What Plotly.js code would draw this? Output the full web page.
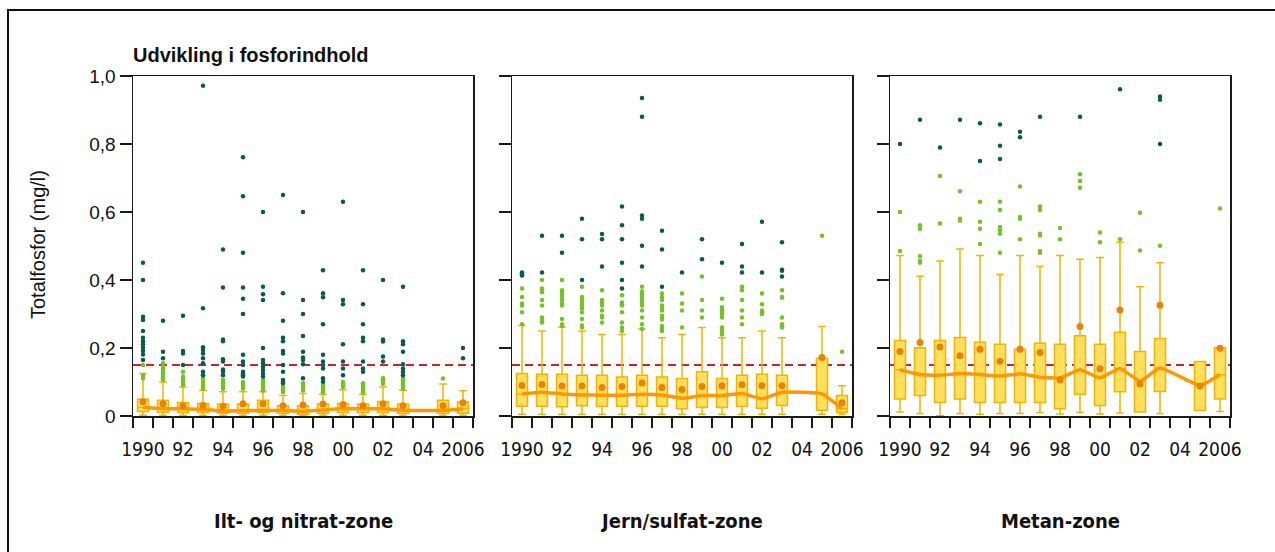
<!DOCTYPE html>
<html><head><meta charset="utf-8">
<script src="https://cdn.plot.ly/plotly-3.0.1.min.js"></script>
<style>
html,body{margin:0;padding:0;background:#fff;overflow:hidden}
#chart{width:1275px;height:552px;position:relative}
#frame{position:absolute;left:7px;top:9px;width:1400px;height:700px;border-left:2px solid #111;border-top:2px solid #111;pointer-events:none}
</style></head><body>
<div id="chart"></div><div id="frame"></div>
<script>
// ---------- DATA ----------
const tickYears = [1990,1992,1994,1996,1998,2000,2002,2004,2006];
const tickLabels = ['1990','92','94','96','98','00','02','04','2006'];
const yTickVals = [0,0.2,0.4,0.6,0.8,1.0];
const yTickLabels = ['0','0,2','0,4','0,6','0,8','1,0'];
const threshold = 0.15;
const zoneNames = ['Ilt- og nitrat-zone','Jern/sulfat-zone','Metan-zone'];

const years = [1990,1991,1992,1993,1994,1995,1996,1997,1998,1999,2000,2001,2002,2003,2005,2006];

// Ilt- og nitrat-zone
const iltQ1     = [0.013,0.011,0.010,0.010,0.008,0.008,0.010,0.008,0.005,0.008,0.010,0.010,0.010,0.008,0.008,0.008];
const iltMedian = [0.025,0.022,0.021,0.020,0.015,0.016,0.016,0.016,0.014,0.018,0.021,0.021,0.021,0.017,0.016,0.021];
const iltQ3     = [0.049,0.046,0.040,0.037,0.035,0.035,0.046,0.030,0.030,0.035,0.037,0.035,0.043,0.035,0.046,0.041];
const iltLower  = [0.002,0.002,0.002,0.002,0.002,0.002,0.002,0.002,0.002,0.002,0.002,0.002,0.002,0.002,0.002,0.002];
const iltUpper  = [0.125,0.100,0.085,0.075,0.071,0.071,0.071,0.060,0.066,0.064,0.077,0.064,0.085,0.076,0.094,0.074];
const iltMean   = [0.042,0.036,0.030,0.031,0.029,0.036,0.036,0.030,0.032,0.035,0.034,0.030,0.036,0.030,0.030,0.039];
const iltMild = [
  [0.150,0.120,0.111],
  [0.155,0.147,0.140,0.132,0.125,0.116,0.111,0.106],
  [0.130,0.116,0.108,0.101,0.096,0.091],
  [0.111,0.101,0.091,0.086,0.081],
  [0.106,0.100,0.095,0.090,0.085,0.080],
  [0.100,0.095,0.090,0.085,0.080],
  [0.106,0.100,0.095,0.090,0.085,0.080,0.075],
  [0.086,0.080,0.075,0.070],
  [0.096,0.090,0.085,0.080,0.075],
  [0.091,0.085,0.080,0.075,0.070],
  [0.100,0.095,0.090,0.085],
  [0.096,0.090,0.085,0.080,0.075,0.070],
  [0.111,0.105,0.100,0.095],
  [0.110,0.105,0.100,0.095,0.090,0.085,0.080],
  [0.110],
  []
];
const iltExtreme = [
  [0.451,0.400,0.292,0.282,0.250,0.230,0.220,0.211,0.201,0.191,0.181,0.165],
  [0.280,0.189,0.170],
  [0.295,0.191,0.184,0.150],
  [0.971,0.317,0.202,0.194,0.184,0.170,0.155,0.130,0.120],
  [0.490,0.378,0.225,0.220,0.167,0.160,0.137,0.130,0.120],
  [0.761,0.646,0.480,0.378,0.345,0.300,0.180,0.160,0.150,0.130,0.125,0.120,0.116],
  [0.600,0.380,0.358,0.341,0.200,0.165,0.155,0.145,0.135,0.125,0.116],
  [0.650,0.361,0.280,0.230,0.220,0.191,0.184,0.150,0.130,0.106,0.101,0.096],
  [0.600,0.341,0.300,0.235,0.189,0.172,0.165,0.152,0.111],
  [0.429,0.361,0.349,0.270,0.180,0.160,0.150,0.140,0.111,0.101],
  [0.630,0.341,0.329,0.211,0.160,0.140,0.120],
  [0.429,0.329,0.270,0.230,0.220,0.160,0.140,0.130],
  [0.400,0.225,0.219,0.175,0.160],
  [0.380,0.220,0.211,0.189,0.152,0.140,0.130,0.120],
  [],
  [0.200,0.170]
];

// Jern/sulfat-zone
const jernQ1     = [0.029,0.029,0.027,0.030,0.028,0.029,0.029,0.029,0.021,0.025,0.025,0.028,0.023,0.031,0.017,0.011];
const jernMedian = [0.065,0.070,0.065,0.062,0.061,0.061,0.064,0.062,0.052,0.060,0.060,0.066,0.051,0.070,0.065,0.021];
const jernQ3     = [0.125,0.123,0.123,0.120,0.120,0.115,0.120,0.115,0.110,0.130,0.110,0.120,0.123,0.120,0.170,0.060];
const jernLower  = [0.005,0.005,0.005,0.005,0.005,0.005,0.005,0.005,0.005,0.005,0.005,0.005,0.005,0.005,0.005,0.005];
const jernUpper  = [0.266,0.250,0.261,0.250,0.240,0.240,0.256,0.230,0.240,0.260,0.230,0.230,0.250,0.230,0.263,0.089];
const jernMean   = [0.090,0.093,0.088,0.088,0.084,0.087,0.097,0.084,0.078,0.087,0.089,0.092,0.089,0.089,0.172,0.039];
const jernMild = [
  [0.375,0.350,0.331,0.325,0.305,0.270],
  [0.400,0.375,0.370,0.364,0.341,0.325,0.290,0.284,0.279,0.275],
  [0.400,0.370,0.364,0.357,0.350,0.341,0.331,0.325,0.285,0.270,0.265],
  [0.380,0.350,0.345,0.339,0.331,0.325,0.317,0.305,0.285,0.266,0.260],
  [0.370,0.341,0.336,0.331,0.325,0.310,0.295,0.290,0.275],
  [0.355,0.334,0.329,0.325,0.305,0.275,0.260,0.250],
  [0.380,0.366,0.358,0.350,0.341,0.334,0.325,0.310,0.290,0.270,0.256],
  [0.360,0.350,0.341,0.325,0.317,0.310,0.295,0.290,0.284,0.265,0.260,0.255,0.250],
  [0.360,0.331,0.310,0.260],
  [0.410,0.341,0.310,0.290],
  [0.345,0.320,0.315,0.310,0.302,0.295,0.290,0.260,0.252,0.245,0.240],
  [0.380,0.370,0.341,0.310,0.290,0.270],
  [0.360,0.329,0.310,0.305,0.300],
  [0.370,0.350,0.348,0.290,0.270,0.265,0.260],
  [0.530],
  [0.189]
];
const jernExtreme = [
  [0.422,0.417,0.413],
  [0.530,0.422],
  [0.530,0.480],
  [0.580,0.520,0.400],
  [0.535,0.520,0.440],
  [0.616,0.561,0.520,0.451,0.400,0.375],
  [0.935,0.880,0.590,0.580,0.501,0.440],
  [0.545,0.490,0.380],
  [0.422],
  [0.520,0.461],
  [0.451],
  [0.506,0.440,0.422],
  [0.571,0.422],
  [0.511,0.430,0.427,0.410],
  [],
  []
];

// Metan-zone
const metanQ1     = [0.050,0.060,0.040,0.050,0.040,0.040,0.040,0.040,0.021,0.064,0.031,0.071,0.012,0.072,0.016,0.050];
const metanMedian = [0.136,0.122,0.120,0.125,0.122,0.118,0.124,0.114,0.112,0.136,0.112,0.140,0.103,0.141,0.090,0.121];
const metanQ3     = [0.222,0.201,0.222,0.231,0.217,0.211,0.196,0.214,0.211,0.236,0.211,0.246,0.190,0.228,0.160,0.201];
const metanLower  = [0.012,0.007,0.001,0.007,0.005,0.007,0.007,0.010,0.006,0.011,0.006,0.009,0.012,0.007,0.016,0.013];
const metanUpper  = [0.472,0.411,0.456,0.491,0.472,0.416,0.472,0.440,0.472,0.461,0.466,0.511,0.380,0.451,0.160,0.201];
const metanMean   = [0.190,0.216,0.203,0.177,0.196,0.161,0.196,0.187,0.106,0.263,0.139,0.312,0.094,0.326,0.088,0.199];
const metanMild = [
  [0.600,0.485],
  [0.561,0.551,0.470,0.456,0.451],
  [0.706,0.566],
  [0.661,0.580,0.575],
  [0.630,0.571,0.551,0.506],
  [0.630,0.606,0.556,0.546,0.536,0.480],
  [0.675,0.585,0.580,0.520],
  [0.616,0.606,0.536,0.531,0.485,0.480],
  [0.553,0.520],
  [0.711,0.691,0.671],
  [0.540,0.511],
  [0.520],
  [0.598,0.487],
  [0.501],
  [],
  [0.610]
];
const metanExtreme = [
  [0.800],
  [0.871],
  [0.790],
  [0.871],
  [0.861,0.750],
  [0.857,0.795,0.756],
  [0.836,0.820],
  [0.880],
  [],
  [0.880],
  [],
  [0.961],
  [],
  [0.940,0.930,0.800],
  [],
  []
];

// ---------- BUILD ----------
const C = {
  boxFill:'#ffdf5e', boxLine:'#f2b400', mild:'#76c02a', extreme:'#0a5a4b',
  mean:'#e5840b', median:'#ff9800', red:'#d3222a', axis:'#1a1a1a'
};
const panels = [
  {q1:iltQ1, med:iltMedian, q3:iltQ3, lf:iltLower, uf:iltUpper, mean:iltMean, mild:iltMild, ext:iltExtreme},
  {q1:jernQ1, med:jernMedian, q3:jernQ3, lf:jernLower, uf:jernUpper, mean:jernMean, mild:jernMild, ext:jernExtreme},
  {q1:metanQ1, med:metanMedian, q3:metanQ3, lf:metanLower, uf:metanUpper, mean:metanMean, mild:metanMild, ext:metanExtreme}
];
function flat(groups){
  const xs=[], ys=[];
  groups.forEach((g,i)=>g.forEach(v=>{xs.push(years[i]); ys.push(v);}));
  return {x:xs, y:ys};
}
const W=1275, H=552;
const pxX = [[133,473],[512,852],[890,1230]];
const yDom = [(H-416)/H, (H-76)/H];
const traces=[];
const sans = 'Liberation Sans, Arial, sans-serif';
const narrow = 'Liberation Sans Narrow, Arial Narrow, DejaVu Sans Condensed, sans-serif';
const layout = {
  width:W, height:H, margin:{l:0,r:0,t:0,b:0},
  paper_bgcolor:'rgba(0,0,0,0)', plot_bgcolor:'#fff', showlegend:false,
  font:{family:sans, color:'#111'},
  title:{text:'<b>Udvikling i fosforindhold</b>', x:133/W, xanchor:'left', xref:'paper',
         y:1-55/H, yanchor:'middle', yref:'paper', font:{family:sans, size:20, color:'#111'}},
  shapes:[], annotations:[]
};
panels.forEach((p,k)=>{
  const xa = k===0?'x':'x'+(k+1), ya = k===0?'y':'y'+(k+1);
  const xk = k===0?'xaxis':'xaxis'+(k+1), yk = k===0?'yaxis':'yaxis'+(k+1);
  traces.push({type:'box', x:years, q1:p.q1, median:p.med, q3:p.q3, lowerfence:p.lf, upperfence:p.uf,
    width:0.55, whiskerwidth:0.7, fillcolor:C.boxFill, line:{color:C.boxLine, width:1.5},
    boxpoints:false, xaxis:xa, yaxis:ya, hoverinfo:'skip'});
  const m = flat(p.mild), e = flat(p.ext);
  traces.push({type:'scatter', mode:'markers', x:m.x, y:m.y, xaxis:xa, yaxis:ya,
    marker:{color:C.mild, size:4.5}, hoverinfo:'skip', cliponaxis:false});
  traces.push({type:'scatter', mode:'markers', x:e.x, y:e.y, xaxis:xa, yaxis:ya,
    marker:{color:C.extreme, size:4.5}, hoverinfo:'skip', cliponaxis:false});
  traces.push({type:'scatter', mode:'lines', x:years, y:p.med, xaxis:xa, yaxis:ya,
    line:{color:C.median, width:3.5, shape:'spline', smoothing:0.4}, hoverinfo:'skip'});
  traces.push({type:'scatter', mode:'markers', x:years, y:p.mean, xaxis:xa, yaxis:ya,
    marker:{color:C.mean, size:7}, hoverinfo:'skip'});
  layout[xk] = {
    domain:[pxX[k][0]/W, pxX[k][1]/W], anchor:ya, range:[1989.5,2006.5],
    tickmode:'array', tickvals:tickYears, ticktext:tickLabels,
    ticks:'outside', ticklen:16, tickcolor:'rgba(0,0,0,0)',
    tickfont:{family:narrow, size:19, color:'#111'},
    minor:{tickmode:'linear', tick0:1989.5, dtick:1, ticks:'outside', ticklen:10, tickwidth:1.2, tickcolor:C.axis, showgrid:false},
    showline:true, linecolor:C.axis, linewidth:1.5, mirror:true, showgrid:false, zeroline:false, fixedrange:true
  };
  layout[yk] = {
    domain:yDom, anchor:xa, range:[0,1.0],
    tickmode:'array', tickvals:yTickVals, ticktext:yTickLabels, showticklabels:k===0,
    ticks:'outside', ticklen:12, tickwidth:1.2, tickcolor:C.axis,
    tickfont:{family:sans, size:19, color:'#111'},
    showline:true, linecolor:C.axis, linewidth:1.5, mirror:true, showgrid:false, zeroline:false, fixedrange:true
  };
  layout.shapes.push({type:'line', xref:xa+' domain', x0:0, x1:1, yref:ya, y0:threshold, y1:threshold,
    line:{color:C.red, width:2, dash:'8px,5px'}, layer:'below'});
  layout.annotations.push({text:'<b>'+zoneNames[k]+'</b>', xref:'paper', yref:'paper',
    x:(pxX[k][0]+pxX[k][1])/2/W, y:(H-521)/H, xanchor:'center', yanchor:'middle', showarrow:false,
    font:{family:narrow, size:20, color:'#111'}});
});
layout.annotations.push({text:'Totalfosfor (mg/l)', textangle:-90, xref:'paper', yref:'paper',
  x:38/W, y:(H-245)/H, xanchor:'center', yanchor:'middle', showarrow:false, font:{family:sans, size:20, color:'#111'}});

Plotly.newPlot('chart', traces, layout, {staticPlot:true, displayModeBar:false});
</script>
</body></html>
